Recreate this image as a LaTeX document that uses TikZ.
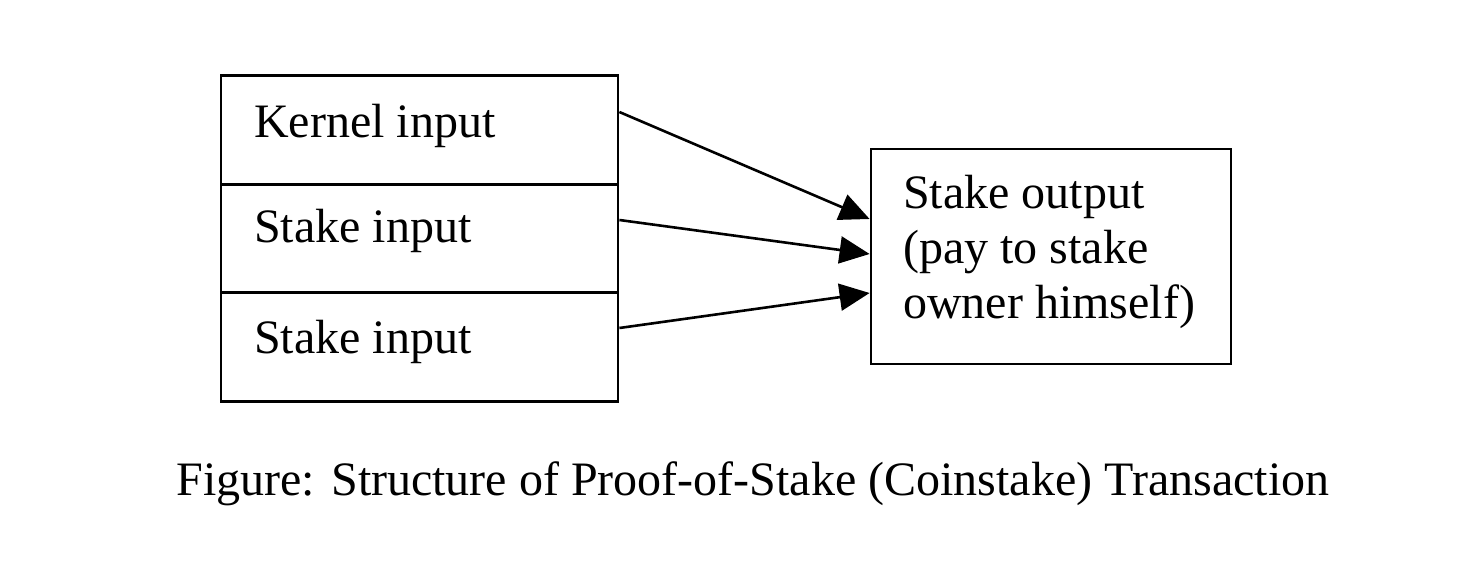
\documentclass[tikz,border=0pt]{standalone}
\usepackage{fontspec}
\setmainfont{Liberation Serif}
\usepackage{tikz}
\usetikzlibrary{arrows.meta}

\begin{document}
\begin{tikzpicture}[
            x=1pt, y=-1pt,
            cell node/.style={rectangle,draw,line width=2.8pt,minimum width=397pt,minimum height=108.7pt,inner sep=0pt},
            label node/.style={anchor=base west,inner sep=0pt,font=\fontsize{48}{55.5}\selectfont},
            link/.style={line width=2.6pt,-{Triangle[length=30pt,width=27pt]}},
            ]
            \useasboundingbox (0,0) rectangle (1468,564);

            \node[cell node] (k) at (419.5,130) {};
            \node[cell node] (s1) at (419.5,238.5) {};
            \node[cell node] (s2) at (419.5,347) {};
            \node[label node] (kt) at (254,137.7) {Kernel input};
            \node[label node] (s1t) at (254,243) {Stake input};
            \node[label node] (s2t) at (254,353) {Stake input};

            \node[cell node, minimum width=360pt, minimum height=215pt] (out) at (1051,256.5) {};
            % base of a multi-line node is its last line
            \node[label node, align=left] (outt) at (903,319) {Stake output\\(pay to stake\\owner himself)};

            \draw[link] ([yshift=18pt]k.east) -- ([yshift=37.5pt]out.west);
            \draw[link] ([yshift=18.5pt]s1.east) -- ([yshift=2.5pt]out.west);
            \draw[link] ([yshift=19pt]s2.east) -- ([yshift=-36.5pt]out.west);

            \node[label node, anchor=base] (cap) at (753,495) {Figure: Structure of Proof-of-Stake (Coinstake) Transaction};
        \end{tikzpicture}
\end{document}
